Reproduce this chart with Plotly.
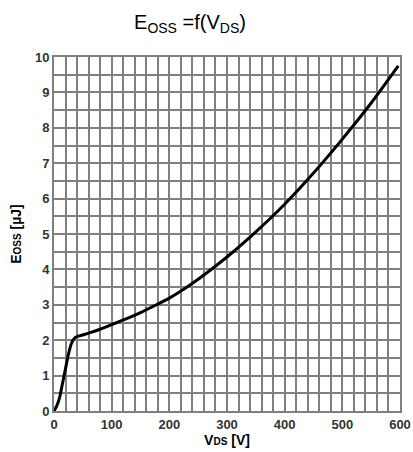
import plotly.graph_objects as go

vds = [0, 5, 10, 15, 20, 25, 30, 35, 40, 60, 80, 100, 125, 150, 175, 200, 225, 250, 300, 350, 400, 450, 500, 550, 597]
eoss = [0, 0.15, 0.4, 0.8, 1.2, 1.6, 1.9, 2.05, 2.1, 2.2, 2.31, 2.44, 2.6, 2.78, 2.98, 3.19, 3.44, 3.72, 4.35, 5.06, 5.84, 6.72, 7.68, 8.7, 9.75]

x_ticks = [0, 100, 200, 300, 400, 500, 600]
y_ticks = list(range(0, 11))

grid = "#808080"
tickfont = dict(family="Liberation Sans, Arial", size=13, color="#333333")

fig = go.Figure()
fig.add_trace(go.Scatter(x=vds, y=eoss, mode="lines", line=dict(color="black", width=3, shape="spline", smoothing=0.5),
                         showlegend=False, hoverinfo="skip"))

fig.update_layout(
    width=413, height=452,
    margin=dict(l=54, r=13, t=57, b=41),
    paper_bgcolor="white", plot_bgcolor="white",
    title=dict(text="E<sub>OSS</sub> =f(V<sub>DS</sub>)",
               x=0.46, xanchor="center", y=0.967, yanchor="top",
               font=dict(family="Liberation Sans, Arial", size=20, color="black")),
    font=dict(family="Liberation Sans, Arial"),
)
fig.update_xaxes(
    range=[0, 600], tickvals=x_ticks, ticktext=[f"<b>{v}</b>" for v in x_ticks],
    tickfont=tickfont, ticks="", automargin=False,
    showgrid=True, gridcolor=grid, gridwidth=2,
    minor=dict(dtick=20, showgrid=True, gridcolor=grid, gridwidth=2),
    showline=True, linecolor=grid, linewidth=2, mirror=True, zeroline=False,
    title=dict(text="<b>V<span style='font-size:10px'>DS</span> [V]</b>", standoff=2,
               font=dict(family="Liberation Sans, Arial", size=14, color="black")),
)
fig.update_yaxes(
    range=[0, 10], tickvals=y_ticks, ticktext=[f"<b>{v}</b>" for v in y_ticks],
    tickfont=tickfont, ticks="", automargin=False,
    showgrid=True, gridcolor=grid, gridwidth=2,
    minor=dict(dtick=0.5, showgrid=True, gridcolor=grid, gridwidth=2),
    showline=True, linecolor=grid, linewidth=2, mirror=True, zeroline=False,
    title=dict(text="<b>E<span style='font-size:10px'>OSS</span> [µJ]</b>", standoff=10,
               font=dict(family="Liberation Sans, Arial", size=14, color="black")),
)

fig.write_html("out.html")
